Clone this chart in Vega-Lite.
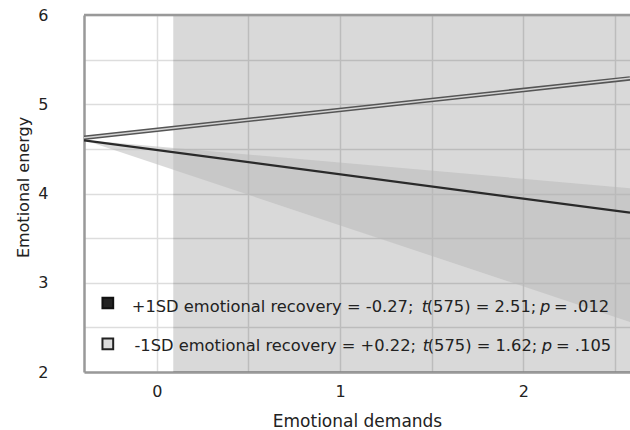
{
  "$schema": "https://vega.github.io/schema/vega-lite/v6.json",
  "autosize": "none",
  "width": 546,
  "height": 357,
  "padding": {"left": 84, "top": 15, "right": 0, "bottom": 58},
  "background": "white",
  "config": {
    "view": {"stroke": null},
    "font": "DejaVu Sans",
    "axis": {"labelFont": "DejaVu Sans", "titleFont": "DejaVu Sans"}
  },
  "datasets": {
    "region": [{"x": 0.09, "x2": 2.582}],
    "band": [
      {"x": -0.397, "upper": 4.6, "lower": 4.6},
      {"x": 2.582, "upper": 4.06, "lower": 2.56}
    ],
    "lines": [
      {"group": "-1SD", "x": -0.397, "y": 4.625},
      {"group": "-1SD", "x": 2.582, "y": 5.29},
      {"group": "+1SD", "x": -0.397, "y": 4.595},
      {"group": "+1SD", "x": 2.582, "y": 3.785}
    ],
    "top": [{"y": 6}],
    "legendSym": [
      {"group": "+1SD", "x": -0.267, "y": 2.773},
      {"group": "-1SD", "x": -0.267, "y": 2.314}
    ],
    "legendText": [
      {"x": -0.1364, "y": 2.669, "text": "+1SD emotional recovery = -0.27;", "style": "normal"},
      {"x": 1.4457, "y": 2.669, "text": "t", "style": "italic"},
      {"x": 1.473, "y": 2.669, "text": "(575) = 2.51;", "style": "normal"},
      {"x": 2.0911, "y": 2.669, "text": "p", "style": "italic"},
      {"x": 2.1675, "y": 2.669, "text": "= .012", "style": "normal"},
      {"x": -0.122, "y": 2.239, "text": "-1SD emotional recovery = +0.22;", "style": "normal"},
      {"x": 1.4512, "y": 2.239, "text": "t", "style": "italic"},
      {"x": 1.4784, "y": 2.239, "text": "(575) = 1.62;", "style": "normal"},
      {"x": 2.1004, "y": 2.239, "text": "p", "style": "italic"},
      {"x": 2.1784, "y": 2.239, "text": "= .105", "style": "normal"}
    ]
  },
  "layer": [
    {
      "data": {"name": "region"},
      "mark": {"type": "rect", "color": "black", "opacity": 0.15, "clip": true},
      "encoding": {
        "x": {
          "field": "x", "type": "quantitative",
          "scale": {"domain": [-0.397, 2.582], "nice": false, "zero": false},
          "axis": {
            "values": [0, 0.5, 1, 1.5, 2, 2.5],
            "format": ".0f",
            "labelExpr": "datum.value % 1 === 0 ? datum.label : ''",
            "title": "Emotional demands",
            "grid": true,
            "ticks": false,
            "domainColor": "#999999",
            "domainWidth": 2.5,
            "gridColor": "#dddddd",
            "gridWidth": 1.5,
            "labelFontSize": 16,
            "labelColor": "#222222",
            "labelPadding": 11,
            "labelBaseline": "top",
            "labelFlush": false,
            "titleFontSize": 17,
            "titleFontWeight": "normal",
            "titleColor": "#222222",
            "titleBaseline": "alphabetic",
            "titleY": 54
          }
        },
        "x2": {"field": "x2"},
        "y": {
          "datum": 2, "type": "quantitative",
          "scale": {"domain": [2, 6], "nice": false, "zero": false},
          "axis": {
            "values": [2, 2.5, 3, 3.5, 4, 4.5, 5, 5.5, 6],
            "format": ".0f",
            "labelExpr": "datum.value % 1 === 0 ? datum.label : ''",
            "title": "Emotional energy",
            "grid": true,
            "ticks": false,
            "domainColor": "#999999",
            "domainWidth": 2.5,
            "gridColor": "#dddddd",
            "gridWidth": 1.5,
            "labelFontSize": 16,
            "labelColor": "#222222",
            "labelPadding": 36,
            "titleFontSize": 16,
            "titleFontWeight": "normal",
            "titleColor": "#222222",
            "titleX": -61,
            "titleY": 172,
            "titleAlign": "center",
            "titleBaseline": "middle",
            "titleAngle": -90
          }
        },
        "y2": {"datum": 6}
      }
    },
    {
      "data": {"name": "band"},
      "mark": {"type": "area", "color": "#b9b9b9", "opacity": 0.52, "clip": true},
      "encoding": {
        "x": {"field": "x", "type": "quantitative"},
        "y": {"field": "upper", "type": "quantitative"},
        "y2": {"field": "lower"}
      }
    },
    {
      "data": {"name": "lines"},
      "transform": [{"filter": "datum.group === '-1SD'"}],
      "mark": {"type": "line", "color": "#555555", "strokeWidth": 4.5, "clip": true},
      "encoding": {
        "x": {"field": "x", "type": "quantitative"},
        "y": {"field": "y", "type": "quantitative"}
      }
    },
    {
      "data": {"name": "lines"},
      "transform": [{"filter": "datum.group === '-1SD'"}],
      "mark": {"type": "line", "color": "#d4d4d4", "strokeWidth": 1.5, "clip": true},
      "encoding": {
        "x": {"field": "x", "type": "quantitative"},
        "y": {"field": "y", "type": "quantitative"}
      }
    },
    {
      "data": {"name": "lines"},
      "transform": [{"filter": "datum.group === '+1SD'"}],
      "mark": {"type": "line", "color": "#2a2a2a", "strokeWidth": 2.2, "clip": true},
      "encoding": {
        "x": {"field": "x", "type": "quantitative"},
        "y": {"field": "y", "type": "quantitative"}
      }
    },
    {
      "data": {"name": "top"},
      "mark": {"type": "rule", "color": "#999999", "strokeWidth": 2.5},
      "encoding": {"y": {"field": "y", "type": "quantitative"}}
    },
    {
      "data": {"name": "legendSym"},
      "mark": {"type": "point", "shape": "square", "filled": true, "size": 115, "strokeWidth": 2, "opacity": 1},
      "encoding": {
        "x": {"field": "x", "type": "quantitative"},
        "y": {"field": "y", "type": "quantitative"},
        "fill": {"field": "group", "type": "nominal", "scale": {"domain": ["+1SD", "-1SD"], "range": ["#222222", "#dddddd"]}, "legend": null},
        "stroke": {"field": "group", "type": "nominal", "scale": {"domain": ["+1SD", "-1SD"], "range": ["#111111", "#222222"]}, "legend": null}
      }
    },
    {
      "data": {"name": "legendText"},
      "transform": [{"filter": "datum.style === 'normal'"}],
      "mark": {"type": "text", "align": "left", "baseline": "alphabetic", "fontSize": 16.3, "color": "#222222"},
      "encoding": {
        "x": {"field": "x", "type": "quantitative"},
        "y": {"field": "y", "type": "quantitative"},
        "text": {"field": "text"}
      }
    },
    {
      "data": {"name": "legendText"},
      "transform": [{"filter": "datum.style === 'italic'"}],
      "mark": {"type": "text", "align": "left", "baseline": "alphabetic", "fontSize": 16.3, "fontStyle": "italic", "color": "#222222"},
      "encoding": {
        "x": {"field": "x", "type": "quantitative"},
        "y": {"field": "y", "type": "quantitative"},
        "text": {"field": "text"}
      }
    }
  ]
}
